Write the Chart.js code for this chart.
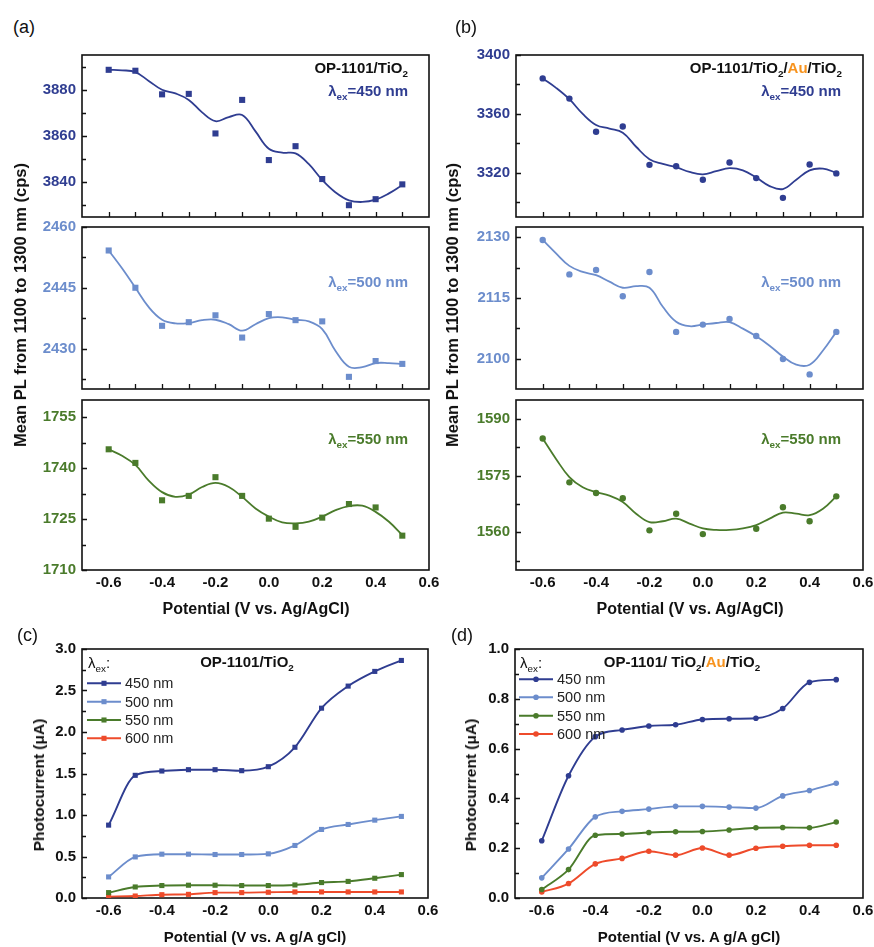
<!DOCTYPE html>
<html>
<head>
<meta charset="utf-8">
<title>PL and photocurrent vs potential</title>
<script src="https://cdn.jsdelivr.net/npm/chart.js@4.4.1/dist/chart.umd.min.js"></script>
<style>
  html, body { margin: 0; padding: 0; background: #fff; }
  body { width: 874px; height: 947px; position: relative; overflow: hidden;
         font-family: "Liberation Sans", Arial, Helvetica, sans-serif; color: #111; }
  canvas { position: absolute; }
  .t { position: absolute; white-space: nowrap; line-height: 18px; }
  .b { font-weight: bold; }
  .sub { font-size: 0.66em; position: relative; top: 0.38em; }
  .rot { transform: translate(-50%, -50%) rotate(-90deg); }
  .ctr { transform: translate(-50%, -50%); }
  .panel { font-size: 18px; }
</style>
</head>
<body>

<canvas id="a1"></canvas>
<canvas id="a2"></canvas>
<canvas id="a3"></canvas>
<canvas id="b1"></canvas>
<canvas id="b2"></canvas>
<canvas id="b3"></canvas>
<canvas id="c"></canvas>
<canvas id="d"></canvas>

<!-- panel letters -->
<div class="t panel" style="left:13px;top:18px;">(a)</div>
<div class="t panel" style="left:455px;top:18px;">(b)</div>
<div class="t panel" style="left:17px;top:626px;">(c)</div>
<div class="t panel" style="left:451px;top:626px;">(d)</div>

<!-- (a) annotations -->
<div class="t b" style="right:466px;top:59px;font-size:15px;">OP-1101/TiO<span class="sub">2</span></div>
<div class="t b" style="right:466px;top:82px;font-size:15px;color:#2F3D91;">&lambda;<span class="sub">ex</span>=450 nm</div>
<div class="t b" style="right:466px;top:273px;font-size:15px;color:#6C8DCC;">&lambda;<span class="sub">ex</span>=500 nm</div>
<div class="t b" style="right:466px;top:430px;font-size:15px;color:#4A7B2B;">&lambda;<span class="sub">ex</span>=550 nm</div>

<!-- (b) annotations -->
<div class="t b" style="right:32px;top:59px;font-size:15px;">OP-1101/TiO<span class="sub">2</span>/<span style="color:#F7931E;">Au</span>/TiO<span class="sub">2</span></div>
<div class="t b" style="right:33px;top:82px;font-size:15px;color:#2F3D91;">&lambda;<span class="sub">ex</span>=450 nm</div>
<div class="t b" style="right:33px;top:273px;font-size:15px;color:#6C8DCC;">&lambda;<span class="sub">ex</span>=500 nm</div>
<div class="t b" style="right:33px;top:430px;font-size:15px;color:#4A7B2B;">&lambda;<span class="sub">ex</span>=550 nm</div>

<!-- (c) / (d) headers -->
<div class="t" style="left:88px;top:654px;font-size:15px;">&lambda;<span class="sub">ex</span>:</div>
<div class="t b ctr" style="left:247px;top:663px;font-size:15px;">OP-1101/TiO<span class="sub">2</span></div>
<div class="t" style="left:520px;top:654px;font-size:15px;">&lambda;<span class="sub">ex</span>:</div>
<div class="t b ctr" style="left:682px;top:663px;font-size:15px;">OP-1101/ TiO<span class="sub">2</span>/<span style="color:#F7931E;">Au</span>/TiO<span class="sub">2</span></div>

<!-- axis titles -->
<div class="t b rot" style="left:20px;top:305px;font-size:16.5px;">Mean PL from 1100 to 1300 nm (cps)</div>
<div class="t b rot" style="left:452px;top:305px;font-size:16.5px;">Mean PL from 1100 to 1300 nm (cps)</div>
<div class="t b ctr" style="left:256px;top:609px;font-size:16px;">Potential (V vs. Ag/AgCl)</div>
<div class="t b ctr" style="left:690px;top:609px;font-size:16px;">Potential (V vs. Ag/AgCl)</div>
<div class="t b rot" style="left:39px;top:785px;font-size:15.5px;">Photocurrent (&mu;A)</div>
<div class="t b rot" style="left:471px;top:785px;font-size:15.5px;">Photocurrent (&mu;A)</div>
<div class="t b ctr" style="left:255px;top:937px;font-size:15px;">Potential (V vs. A g/A gCl)</div>
<div class="t b ctr" style="left:689px;top:937px;font-size:15px;">Potential (V vs. A g/A gCl)</div>

<script>
// ---- applied potentials (V vs. Ag/AgCl) ----
const potentials = [-0.6, -0.5, -0.4, -0.3, -0.2, -0.1, 0.0, 0.1, 0.2, 0.3, 0.4, 0.5];
// potentials at which the smoothed PL trend lines are sampled
const fitPotentials = [-0.6, -0.55, -0.5, -0.45, -0.4, -0.35, -0.3, -0.25, -0.2, -0.15, -0.1, -0.05,
                       0.0, 0.05, 0.1, 0.15, 0.2, 0.25, 0.3, 0.35, 0.4, 0.45, 0.5];
const xTickValues = [-0.6, -0.4, -0.2, 0.0, 0.2, 0.4, 0.6];
const xInnerTicks = [-0.6, -0.5, -0.4, -0.3, -0.2, -0.1, 0.0, 0.1, 0.2, 0.3, 0.4, 0.5];

// ---- (a) OP-1101/TiO2 : mean PL (cps) ----
const plA450    = [3888.6, 3888.2, 3878.0, 3878.2, 3861.1, 3875.6, 3849.6, 3855.6, 3841.4, 3830.1, 3832.7, 3839.1];
const plA450Fit = [3888.6, 3888.4, 3887.6, 3883.8, 3880.0, 3878.4, 3875.6, 3870.2, 3866.4, 3868.2, 3869.1, 3862.0,
                   3854.5, 3852.8, 3852.5, 3847.8, 3841.0, 3835.6, 3832.2, 3831.5, 3832.5, 3835.2, 3838.8];
const plA500    = [2454.2, 2445.0, 2435.6, 2436.5, 2438.2, 2432.7, 2438.5, 2437.0, 2436.7, 2423.0, 2426.9, 2426.2];
const plA500Fit = [2454.2, 2449.8, 2445.0, 2440.2, 2437.1, 2436.2, 2436.3, 2437.0, 2437.1, 2436.0, 2434.4, 2436.0,
                   2437.5, 2437.7, 2437.1, 2436.7, 2434.8, 2429.4, 2425.5, 2425.4, 2426.4, 2426.4, 2426.2];
const plA550    = [1745.5, 1741.5, 1730.5, 1731.8, 1737.3, 1731.8, 1725.1, 1722.7, 1725.4, 1729.4, 1728.4, 1720.1];
const plA550Fit = [1745.5, 1743.6, 1740.9, 1736.3, 1732.9, 1731.5, 1732.2, 1734.4, 1735.6, 1734.4, 1731.5, 1728.1,
                   1725.7, 1724.0, 1723.7, 1724.2, 1725.7, 1727.6, 1728.8, 1728.9, 1727.1, 1724.2, 1720.3];

// ---- (b) OP-1101/TiO2/Au/TiO2 : mean PL (cps) ----
const plB450    = [3384.1, 3370.4, 3347.9, 3351.5, 3325.4, 3324.5, 3315.3, 3327.0, 3316.4, 3303.0, 3325.6, 3319.6];
const plB450Fit = [3384.1, 3377.7, 3370.0, 3360.0, 3352.5, 3350.0, 3347.2, 3337.7, 3329.2, 3326.0, 3323.8, 3320.6,
                   3319.0, 3321.1, 3323.2, 3321.7, 3316.8, 3311.0, 3309.0, 3315.3, 3321.7, 3322.8, 3320.0];
const plB500    = [2129.3, 2120.8, 2121.9, 2115.4, 2121.4, 2106.6, 2108.4, 2109.8, 2105.6, 2099.9, 2096.1, 2106.6];
const plB500Fit = [2129.3, 2126.0, 2122.9, 2121.4, 2120.6, 2119.0, 2117.5, 2117.9, 2117.5, 2112.8, 2109.1, 2108.0,
                   2108.4, 2108.8, 2109.0, 2107.4, 2105.5, 2103.2, 2100.5, 2098.5, 2098.5, 2102.0, 2106.6];
const plB550    = [1584.8, 1573.2, 1570.4, 1569.0, 1560.5, 1564.9, 1559.5, null, 1560.9, 1566.6, 1562.9, 1569.5];
const plB550Fit = [1584.8, 1579.4, 1574.6, 1571.9, 1570.6, 1569.7, 1568.0, 1564.9, 1562.7, 1562.9, 1563.6, 1562.3,
                   1561.0, 1560.6, 1560.6, 1561.0, 1561.9, 1563.6, 1565.2, 1564.9, 1564.5, 1566.2, 1569.5];

// ---- (c) OP-1101/TiO2 : photocurrent (uA) ----
const pcC450 = [0.878, 1.478, 1.530, 1.546, 1.546, 1.534, 1.582, 1.816, 2.287, 2.553, 2.730, 2.862];
const pcC500 = [0.254, 0.495, 0.528, 0.528, 0.524, 0.524, 0.532, 0.633, 0.826, 0.886, 0.938, 0.983];
const pcC550 = [0.065, 0.133, 0.150, 0.154, 0.154, 0.150, 0.150, 0.157, 0.186, 0.200, 0.238, 0.282];
const pcC600 = [0.017, 0.024, 0.040, 0.044, 0.065, 0.065, 0.069, 0.073, 0.073, 0.073, 0.073, 0.073];

// ---- (d) OP-1101/TiO2/Au/TiO2 : photocurrent (uA) ----
const pcD450 = [0.230, 0.491, 0.648, 0.675, 0.691, 0.696, 0.717, 0.720, 0.722, 0.761, 0.866, 0.877];
const pcD500 = [0.081, 0.197, 0.326, 0.348, 0.357, 0.368, 0.368, 0.365, 0.361, 0.410, 0.432, 0.461];
const pcD550 = [0.034, 0.114, 0.252, 0.257, 0.263, 0.266, 0.267, 0.273, 0.282, 0.283, 0.282, 0.305];
const pcD600 = [0.024, 0.058, 0.137, 0.159, 0.188, 0.172, 0.201, 0.172, 0.200, 0.208, 0.212, 0.212];

const wavelengthLabels = ['450 nm', '500 nm', '550 nm', '600 nm'];

// ---- y-axis ticks ----
const yTicksA1 = [3840, 3860, 3880],        yMinorA1 = [3830, 3850, 3870, 3890];
const yTicksA2 = [2430, 2445, 2460],        yMinorA2 = [2422.5, 2437.5, 2452.5];
const yTicksA3 = [1710, 1725, 1740, 1755],  yMinorA3 = [1717.5, 1732.5, 1747.5];
const yTicksB1 = [3320, 3360, 3400],        yMinorB1 = [3300, 3340, 3380];
const yTicksB2 = [2100, 2115, 2130],        yMinorB2 = [2107.5, 2122.5];
const yTicksB3 = [1560, 1575, 1590],        yMinorB3 = [1552.5, 1567.5, 1582.5];
const yTicksC  = [0.0, 0.5, 1.0, 1.5, 2.0, 2.5, 3.0], yMinorC = [0.25, 0.75, 1.25, 1.75, 2.25, 2.75];
const yTicksD  = [0.0, 0.2, 0.4, 0.6, 0.8, 1.0],      yMinorD = [0.1, 0.3, 0.5, 0.7, 0.9];

// ---- palette ----
const DARK = '#2F3D91', LIGHT = '#6C8DCC', GREEN = '#4A7B2B', RED = '#EE4B2B';
const FONT = '"Liberation Sans", Arial, Helvetica, sans-serif';
Chart.defaults.font.family = FONT;

const pts = (xs, ys) => xs.map((x, i) => ({ x: x, y: ys[i] }));
const fmt1 = v => (Math.abs(v) < 1e-9 ? 0 : v).toFixed(1);

// box frame plus inward tick marks
const framePlugin = {
  id: 'frame',
  beforeDatasetsDraw(chart, args, o) {
    const { ctx, chartArea: a, scales } = chart;
    ctx.save();
    ctx.strokeStyle = '#111';
    ctx.lineWidth = 1.6;
    ctx.strokeRect(a.left, a.top, a.right - a.left, a.bottom - a.top);
    ctx.lineWidth = 1.3;
    ctx.beginPath();
    (o.yMajor || []).forEach(v => {
      const y = Math.round(scales.y.getPixelForValue(v)) + 0.5;
      ctx.moveTo(a.left, y); ctx.lineTo(a.left + 5, y);
    });
    (o.yMinor || []).forEach(v => {
      const y = Math.round(scales.y.getPixelForValue(v)) + 0.5;
      ctx.moveTo(a.left, y); ctx.lineTo(a.left + 4, y);
    });
    (o.xInner || []).forEach(v => {
      const x = Math.round(scales.x.getPixelForValue(v)) + 0.5;
      ctx.moveTo(x, a.bottom); ctx.lineTo(x, a.bottom - 5);
    });
    ctx.stroke();
    ctx.restore();
  }
};

// legend rows: short line with a marker in the middle, then the label
const lineLegendPlugin = {
  id: 'lineLegend',
  afterDraw(chart, args, o) {
    if (!o || !o.ys) return;
    const ctx = chart.ctx;
    ctx.save();
    chart.data.datasets.forEach((ds, i) => {
      const y = o.ys[i];
      ctx.strokeStyle = ds.borderColor;
      ctx.lineWidth = 2;
      ctx.beginPath(); ctx.moveTo(o.x0, y); ctx.lineTo(o.x1, y); ctx.stroke();
      ctx.fillStyle = ds.borderColor;
      const r = ds.pointRadius;
      ctx.beginPath();
      if (ds.pointStyle === 'rect') {
        const s = r * Math.SQRT1_2;
        ctx.rect(o.xm - s, y - s, 2 * s, 2 * s);
      } else {
        ctx.arc(o.xm, y, r, 0, Math.PI * 2);
      }
      ctx.fill();
      ctx.fillStyle = '#222';
      ctx.font = '14.5px ' + FONT;
      ctx.textBaseline = 'middle';
      ctx.textAlign = 'left';
      ctx.fillText(ds.label, o.tx, y + 1);
    });
    ctx.restore();
  }
};

function makeChart(cfg) {
  const [cx, cy, cw, ch] = cfg.canvas;
  const [L, T, R, B] = cfg.area;
  const el = document.getElementById(cfg.id);
  el.width = cw; el.height = ch;
  el.style.left = cx + 'px'; el.style.top = cy + 'px';
  el.style.width = cw + 'px'; el.style.height = ch + 'px';
  return new Chart(el, {
    type: 'scatter',
    data: { datasets: cfg.datasets },
    options: {
      responsive: false,
      animation: false,
      devicePixelRatio: 1,
      layout: { padding: { left: 0, top: T - cy, right: cx + cw - R, bottom: 0 } },
      plugins: {
        legend: { display: false },
        tooltip: { enabled: false },
        frame: { yMajor: cfg.yTicks, yMinor: cfg.yMinor, xInner: cfg.xInner || [] },
        lineLegend: cfg.legend || {}
      },
      scales: {
        x: {
          type: 'linear', min: -0.7, max: 0.6,
          grid: { display: false, drawTicks: false },
          border: { display: false },
          afterFit: s => { s.height = cy + ch - B; },
          afterBuildTicks: s => { s.ticks = xTickValues.map(v => ({ value: v })); },
          ticks: { display: !!cfg.xLabels, padding: 4, color: '#111',
                   font: { size: 15, weight: 'bold' }, callback: v => fmt1(v) }
        },
        y: {
          type: 'linear', min: cfg.yMin, max: cfg.yMax,
          grid: { display: false, drawTicks: false },
          border: { display: false },
          afterFit: s => { s.width = L - cx; },
          afterBuildTicks: s => { s.ticks = cfg.yTicks.map(v => ({ value: v })); },
          ticks: { padding: 6, color: cfg.tickColor,
                   font: { size: 15, weight: 'bold' },
                   callback: v => (cfg.yFmt ? cfg.yFmt(v) : String(v)) }
        }
      }
    },
    plugins: [framePlugin, lineLegendPlugin]
  });
}

// PL panels: measured points plus a smoothed trend line
function plSets(values, fit, color, style, radius) {
  return [
    { data: pts(potentials, values), showLine: false, pointStyle: style, pointRadius: radius,
      pointBorderWidth: 0, backgroundColor: color, borderColor: color },
    { data: pts(fitPotentials, fit), showLine: true, pointRadius: 0, borderColor: color,
      borderWidth: 1.8, tension: 0.4, fill: false }
  ];
}

// photocurrent panels: one smoothed line with markers per wavelength
function pcSet(label, values, color, style, radius) {
  return { label: label, data: pts(potentials, values), showLine: true, pointStyle: style,
           pointRadius: radius, pointBorderWidth: 0, backgroundColor: color, borderColor: color,
           borderWidth: 1.9, cubicInterpolationMode: 'monotone', fill: false };
}

// (a)
makeChart({ id: 'a1', canvas: [0, 40, 460, 192], area: [82, 52, 429, 225],
  yMin: 3825, yMax: 3895, yTicks: yTicksA1, yMinor: yMinorA1, tickColor: DARK,
  xInner: xInnerTicks, datasets: plSets(plA450, plA450Fit, DARK, 'rect', 4.3) });
makeChart({ id: 'a2', canvas: [0, 212, 460, 192], area: [82, 225, 429, 397],
  yMin: 2420, yMax: 2460, yTicks: yTicksA2, yMinor: yMinorA2, tickColor: LIGHT,
  xInner: xInnerTicks, datasets: plSets(plA500, plA500Fit, LIGHT, 'rect', 4.3) });
makeChart({ id: 'a3', canvas: [0, 385, 460, 215], area: [82, 397, 429, 570],
  yMin: 1710, yMax: 1760, yTicks: yTicksA3, yMinor: yMinorA3, tickColor: GREEN,
  xLabels: true, datasets: plSets(plA550, plA550Fit, GREEN, 'rect', 4.3) });

// (b)
makeChart({ id: 'b1', canvas: [440, 40, 454, 192], area: [516, 52, 863, 225],
  yMin: 3290, yMax: 3400, yTicks: yTicksB1, yMinor: yMinorB1, tickColor: DARK,
  xInner: xInnerTicks, datasets: plSets(plB450, plB450Fit, DARK, 'circle', 3.2) });
makeChart({ id: 'b2', canvas: [440, 212, 454, 192], area: [516, 225, 863, 397],
  yMin: 2092.5, yMax: 2132.5, yTicks: yTicksB2, yMinor: yMinorB2, tickColor: LIGHT,
  xInner: xInnerTicks, datasets: plSets(plB500, plB500Fit, LIGHT, 'circle', 3.2) });
makeChart({ id: 'b3', canvas: [440, 385, 454, 215], area: [516, 397, 863, 570],
  yMin: 1550, yMax: 1595, yTicks: yTicksB3, yMinor: yMinorB3, tickColor: GREEN,
  xLabels: true, datasets: plSets(plB550, plB550Fit, GREEN, 'circle', 3.2) });

// (c)
makeChart({ id: 'c', canvas: [0, 630, 460, 317], area: [82, 649, 428, 898],
  yMin: 0, yMax: 3, yTicks: yTicksC, yMinor: yMinorC, tickColor: '#111', yFmt: fmt1,
  xLabels: true,
  legend: { x0: 87, x1: 121, xm: 104, tx: 125, ys: [53.3, 71.7, 90, 108.3] },
  datasets: [
    pcSet(wavelengthLabels[0], pcC450, DARK, 'rect', 3.6),
    pcSet(wavelengthLabels[1], pcC500, LIGHT, 'rect', 3.6),
    pcSet(wavelengthLabels[2], pcC550, GREEN, 'rect', 3.6),
    pcSet(wavelengthLabels[3], pcC600, RED, 'rect', 3.6)
  ] });

// (d)
makeChart({ id: 'd', canvas: [440, 630, 454, 317], area: [515, 649, 863, 898],
  yMin: 0, yMax: 1, yTicks: yTicksD, yMinor: yMinorD, tickColor: '#111', yFmt: fmt1,
  xLabels: true,
  legend: { x0: 79, x1: 113, xm: 96, tx: 117, ys: [49.3, 67.3, 85.7, 104] },
  datasets: [
    pcSet(wavelengthLabels[0], pcD450, DARK, 'circle', 2.8),
    pcSet(wavelengthLabels[1], pcD500, LIGHT, 'circle', 2.8),
    pcSet(wavelengthLabels[2], pcD550, GREEN, 'circle', 2.8),
    pcSet(wavelengthLabels[3], pcD600, RED, 'circle', 2.8)
  ] });
</script>
</body>
</html>
